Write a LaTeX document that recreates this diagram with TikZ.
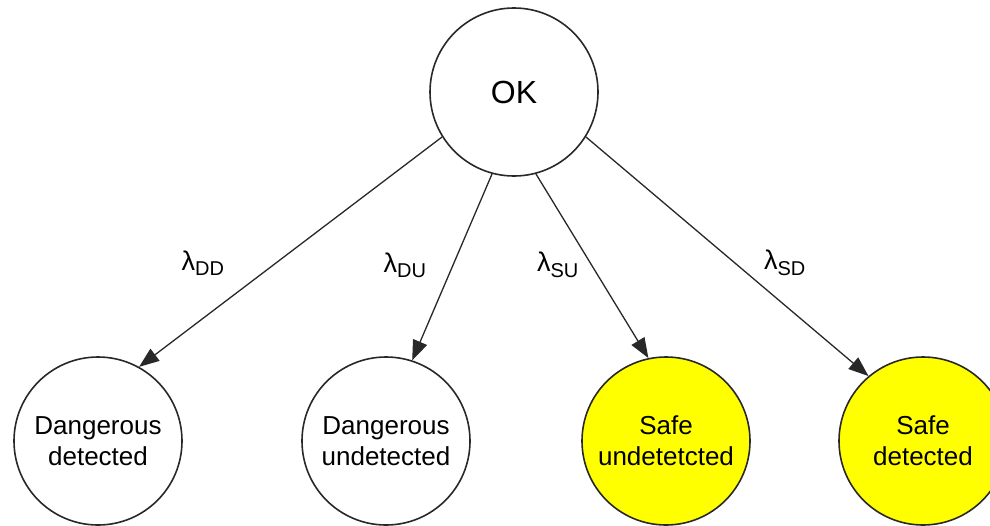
\documentclass[tikz,border=0pt]{standalone}
\usepackage{fontspec}
\setmainfont{Liberation Sans}
\usetikzlibrary{arrows.meta}
\definecolor{stateyellow}{RGB}{255,255,0}
\definecolor{linegray}{RGB}{40,40,40}
\tikzset{
  state/.style={circle, draw=linegray, line width=1.6pt, minimum size=168pt, inner sep=0pt, align=center, font=\fontsize{26}{31}\selectfont},
  safe/.style={state, fill=stateyellow},
  trans/.style={draw=linegray, line width=1.3pt, -{Triangle[length=20pt,width=15pt]}},
  rate/.style={font=\fontsize{27}{30}\selectfont, inner sep=0pt}
}
\begin{document}
\begin{tikzpicture}[x=1pt,y=-1pt]
\useasboundingbox (0,0) rectangle (990,525);
\clip (0,0) rectangle (990,525);
\node[state, font=\fontsize{32}{36}\selectfont] (ok) at (514,92) {OK};
\node[state] (dd) at (98,441) {Dangerous\\detected};
\node[state] (du) at (386,441) {Dangerous\\undetected};
\node[safe] (su) at (666,441) {Safe\\undetetcted};
\node[safe] (sd) at (923,441) {Safe\\detected};
\draw[trans] (ok.212.6) -- (dd.61.7);
\draw[trans] (ok.255.5) -- (du.72.2);
\draw[trans] (ok.285.9) -- (su.102);
\draw[trans] (ok.328.3) -- (sd.130.3);
\node[rate] (ldd) at (203,263) {λ\textsubscript{\fontsize{20}{22}\selectfont DD}};
\node[rate] (ldu) at (405,265) {λ\textsubscript{\fontsize{20}{22}\selectfont DU}};
\node[rate] (lsu) at (558,265) {λ\textsubscript{\fontsize{20}{22}\selectfont SU}};
\node[rate] (lsd) at (785,263) {λ\textsubscript{\fontsize{20}{22}\selectfont SD}};
\end{tikzpicture}
\end{document}
